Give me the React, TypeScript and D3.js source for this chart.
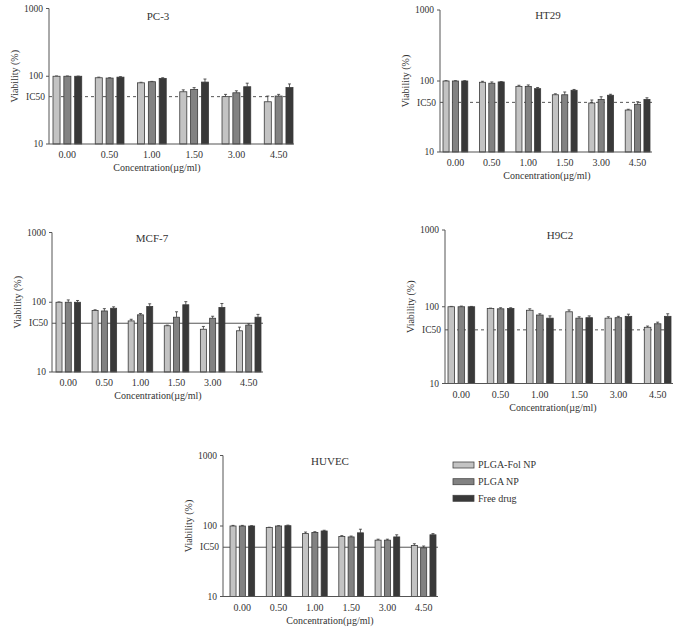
import React from 'react';
import * as d3 from 'd3';

const concentrations = ['0.00', '0.50', '1.00', '1.50', '3.00', '4.50'];
const seriesNames = ['PLGA-Fol NP', 'PLGA NP', 'Free drug'];
const yTicks = [10, 100, 1000];
const ic50 = 50;

// values per concentration: [PLGA-Fol NP, PLGA NP, Free drug]
const pc3Values = [[100, 100, 100], [95, 94, 97], [80, 83, 93], [59, 64, 82], [50, 57, 70], [42, 51, 68]];
const pc3Errors = [[1, 1, 0.5], [2, 1, 1.5], [1.5, 1, 2], [4, 4, 9], [4, 4, 9], [9, 3, 9]];

const ht29Values = [[100, 100, 100], [96, 93, 97], [84, 84, 78], [64, 64, 74], [49, 55, 63], [39, 47, 55]];
const ht29Errors = [[1, 1, 1], [3, 4, 1], [3, 4, 3], [2, 6, 2], [5, 5, 2], [1, 4, 3]];

const mcf7Values = [[100, 100, 100], [76, 75, 82], [54, 66, 87], [46, 61, 92], [41, 59, 84], [39, 47, 61]];
const mcf7Errors = [[1, 8, 6], [2, 6, 4], [3, 3, 8], [1, 12, 10], [4, 4, 12], [5, 2, 6]];

const h9c2Values = [[100, 100, 100], [95, 94, 95], [90, 78, 71], [86, 71, 72], [71, 72, 75], [54, 60, 75]];
const h9c2Errors = [[1, 2, 1], [1, 3, 2], [4, 3, 5], [5, 3, 4], [3, 3, 5], [2, 3, 6]];

const huvecValues = [[100, 100, 100], [95, 100, 101], [78, 81, 85], [71, 70, 80], [63, 63, 70], [53, 49, 75]];
const huvecErrors = [[2, 2, 1], [1, 1, 2], [4, 2, 2], [2, 2, 10], [2, 2, 5], [3, 3, 3]];

const fills = ['#c3c3c3', '#828282', '#393939'];
const font = "'Liberation Serif', 'Times New Roman', serif";
const ink = '#333';

const panels = [
  { title: 'PC-3', values: pc3Values, errors: pc3Errors, left: 49, right: 294, top: 8.5, bottom: 144, bandL: 53, bandR: 293, titleX: 158, titleY: 20, labelX: 157, dashed: true },
  { title: 'HT29', values: ht29Values, errors: ht29Errors, left: 440, right: 652, top: 10, bottom: 152, bandL: 443, bandR: 650, titleX: 548, titleY: 19, labelX: 547, dashed: true },
  { title: 'MCF-7', values: mcf7Values, errors: mcf7Errors, left: 52, right: 263, top: 232.5, bottom: 372, bandL: 56, bandR: 261, titleX: 152, titleY: 242, labelX: 158, dashed: false },
  { title: 'H9C2', values: h9c2Values, errors: h9c2Errors, left: 445, right: 673, top: 230, bottom: 383.5, bandL: 448, bandR: 671, titleX: 560, titleY: 239, labelX: 553, dashed: true },
  { title: 'HUVEC', values: huvecValues, errors: huvecErrors, left: 223, right: 438, top: 455.5, bottom: 596.5, bandL: 230, bandR: 436, titleX: 330, titleY: 465, labelX: 330, dashed: false },
];

type PanelDef = (typeof panels)[number];

function Panel({ p }: { p: PanelDef }) {
  const y = d3.scaleLog().domain([10, 1000]).range([p.bottom, p.top]);
  const x0 = d3.scaleBand().domain(concentrations).range([p.bandL, p.bandR]).paddingInner(0.32).paddingOuter(0);
  const x1 = d3.scaleBand().domain(seriesNames).range([0, x0.bandwidth()]).paddingInner(0.35);

  return (
    <g fontFamily={font} fill={ink}>
      <text x={p.titleX} y={p.titleY} fontSize={11} textAnchor="middle">{p.title}</text>

      {/* IC50 reference line, under the bars */}
      <line x1={p.left} x2={p.right} y1={y(ic50)} y2={y(ic50)} stroke="#555" strokeWidth={1}
        strokeDasharray={p.dashed ? '3 3' : undefined} />

      {p.values.map((vals, gi) => vals.map((v, si) => {
        const bx = x0(concentrations[gi])! + x1(seriesNames[si])!;
        const bw = x1.bandwidth();
        const top = y(v);
        const et = y(v + p.errors[gi][si]);
        const cx = bx + bw / 2;
        return (
          <g key={`${gi}-${si}`}>
            <line x1={cx} x2={cx} y1={top} y2={et} stroke="#333" strokeWidth={0.8} />
            <line x1={cx - 1.5} x2={cx + 1.5} y1={et} y2={et} stroke="#333" strokeWidth={0.8} />
            <rect x={bx} y={top} width={bw} height={p.bottom - top} fill={fills[si]} stroke="#3a3a3a" strokeWidth={0.8} />
          </g>
        );
      }))}

      {/* axes */}
      <line x1={p.left} x2={p.left} y1={p.top} y2={p.bottom} stroke="#555" strokeWidth={1} />
      <line x1={p.left} x2={p.right} y1={p.bottom} y2={p.bottom} stroke="#555" strokeWidth={1.2} />
      {yTicks.map(t => (
        <g key={t}>
          <line x1={p.left - 3} x2={p.left} y1={y(t)} y2={y(t)} stroke="#555" />
          <text x={p.left - 6} y={y(t)} dy="0.33em" fontSize={9.5} textAnchor="end">{t}</text>
        </g>
      ))}
      <text x={p.left - 4} y={y(ic50)} dy="0.33em" fontSize={9.5} textAnchor="end">IC50</text>

      {concentrations.map(c => (
        <text key={c} x={x0(c)! + x0.bandwidth() / 2} y={p.bottom + 14} fontSize={10} textAnchor="middle">{c}</text>
      ))}
      <text x={p.labelX} y={p.bottom + 27} fontSize={10} textAnchor="middle">Concentration(µg/ml)</text>
      <text transform={`translate(${p.left - 34},${y(100)}) rotate(-90)`} dy="0.33em" fontSize={10} textAnchor="middle">Viability (%)</text>
    </g>
  );
}

function Legend() {
  const rows = [465, 481.7, 498.3];
  return (
    <g fontFamily={font} fill={ink}>
      {seriesNames.map((s, i) => (
        <g key={s}>
          <rect x={453} y={rows[i] - 3} width={21} height={6} fill={fills[i]} stroke="#444" strokeWidth={0.8} />
          <text x={478} y={rows[i]} dy="0.33em" fontSize={10}>{s}</text>
        </g>
      ))}
    </g>
  );
}

export default function App() {
  return (
    <svg width={678} height={633} style={{ position: 'absolute', left: 0, top: 0, background: '#fff' }}>
      {panels.map(p => <Panel key={p.title} p={p} />)}
      <Legend />
    </svg>
  );
}
